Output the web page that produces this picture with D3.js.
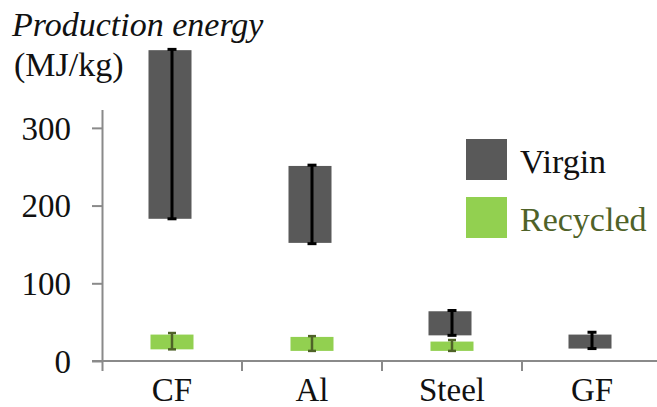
<!DOCTYPE html>
<html><head><meta charset="utf-8">
<script src="https://cdn.jsdelivr.net/npm/d3@7"></script>
<style>
body{margin:0;background:#fff}
svg{display:block}
</style>
</head><body>
<svg id="chart" width="657" height="407"></svg>
<script>
// Production energy ranges (MJ/kg) per material
const categories = ["CF", "Al", "Steel", "GF"];
const virginLow = [183, 152, 33, 16];
const virginHigh = [400, 251, 64, 34];
const virginErrLow = [183, 151, 33, 16];
const virginErrHigh = [401, 252, 65, 37];
const recycledLow = [15, 13, 13, null];
const recycledHigh = [34, 31, 25, null];
const recycledErrLow = [15, 13, 13, null];
const recycledErrHigh = [36, 32, 27, null];
const yTicks = [0, 100, 200, 300];
const seriesNames = ["Virgin", "Recycled"];

const colors = { virgin: "#595959", recycled: "#92d050" };
const errColors = { virgin: "#000000", recycled: "#4f6228" };
const axisColor = "#8a8a8a";
const serif = "'Liberation Serif','Liberation Serif Regular','Times New Roman',Times,Tinos,'Nimbus Roman','Nimbus Roman No9 L','TeX Gyre Termes',FreeSerif,'DejaVu Serif','Noto Serif',serif";

const svg = d3.select("#chart").attr("font-family", serif);

const x = d3.scaleBand().domain(categories).range([102, 662]).padding(0);
const y = d3.scaleLinear().domain([0, 323]).range([361, 110]);

const barW = 43;
const cx = c => x(c) + x.bandwidth() / 2;

// y axis
const yAxis = svg.append("g").attr("transform", "translate(102,0)")
  .call(d3.axisLeft(y).tickValues(yTicks).tickSize(10).tickPadding(21).tickFormat(d3.format("d")))
  .attr("font-family", serif);
yAxis.select(".domain").attr("stroke", axisColor).attr("stroke-width", 2).attr("d", `M0.5,${y(0) + 10}V${y(323)}`);
yAxis.selectAll(".tick line").attr("stroke", axisColor).attr("stroke-width", 2);
yAxis.selectAll(".tick text").attr("font-size", 33).attr("fill", "#111").attr("dy", "0.34em");

// x axis: line with ticks between categories
const xg = svg.append("g");
xg.append("line").attr("x1", 92).attr("x2", 657).attr("y1", y(0)).attr("y2", y(0))
  .attr("stroke", axisColor).attr("stroke-width", 2);
xg.selectAll("line.xt").data(categories).join("line").attr("class", "xt")
  .attr("x1", d => x(d) + x.bandwidth()).attr("x2", d => x(d) + x.bandwidth())
  .attr("y1", y(0)).attr("y2", y(0) + 10)
  .attr("stroke", axisColor).attr("stroke-width", 2);
xg.selectAll("text").data(categories).join("text")
  .attr("x", cx).attr("y", 401).attr("text-anchor", "middle")
  .attr("font-size", 33).attr("fill", "#111").text(d => d);

// floating range bars with error bars spanning each range
function drawSeries(key, lows, highs, errLows, errHighs, dx) {
  const data = categories.map((c, i) => ({ c, lo: lows[i], hi: highs[i], elo: errLows[i], ehi: errHighs[i] }))
    .filter(d => d.lo != null);
  const g = svg.append("g");
  g.selectAll("rect").data(data).join("rect")
    .attr("x", d => cx(d.c) - barW / 2 + dx).attr("width", barW)
    .attr("y", d => y(d.hi)).attr("height", d => y(d.lo) - y(d.hi))
    .attr("fill", colors[key]);
  const capW = key === "virgin" ? 9 : 8;
  const sw = key === "virgin" ? 3 : 2.5;
  const e = g.selectAll("g.err").data(data).join("g").attr("class", "err")
    .attr("stroke", errColors[key]).attr("stroke-width", sw);
  e.append("line").attr("x1", d => cx(d.c)).attr("x2", d => cx(d.c))
    .attr("y1", d => y(d.ehi)).attr("y2", d => y(d.elo));
  e.append("line").attr("x1", d => cx(d.c) - capW / 2).attr("x2", d => cx(d.c) + capW / 2)
    .attr("y1", d => y(d.ehi)).attr("y2", d => y(d.ehi));
  e.append("line").attr("x1", d => cx(d.c) - capW / 2).attr("x2", d => cx(d.c) + capW / 2)
    .attr("y1", d => y(d.elo)).attr("y2", d => y(d.elo));
}
drawSeries("virgin", virginLow, virginHigh, virginErrLow, virginErrHigh, -2);
drawSeries("recycled", recycledLow, recycledHigh, recycledErrLow, recycledErrHigh, 0);

// axis title
svg.append("text").attr("x", 12).attr("y", 36).attr("font-size", 34)
  .attr("font-style", "italic").attr("fill", "#111").text("Production energy");
svg.append("text").attr("x", 14).attr("y", 76).attr("font-size", 34)
  .attr("fill", "#111").text("(MJ/kg)");

// legend
const legend = svg.append("g").attr("transform", "translate(466,139)");
const legendItems = seriesNames.map((name, i) => ({
  name, fill: i === 0 ? colors.virgin : colors.recycled, text: i === 0 ? "#111" : "#4f6228"
}));
const li = legend.selectAll("g").data(legendItems).join("g")
  .attr("transform", (d, i) => `translate(0,${i * 58})`);
li.append("rect").attr("width", 41).attr("height", 41).attr("fill", d => d.fill);
li.append("text").attr("x", 54).attr("y", 34).attr("font-size", 34)
  .attr("fill", d => d.text).text(d => d.name);
</script>
</body></html>
